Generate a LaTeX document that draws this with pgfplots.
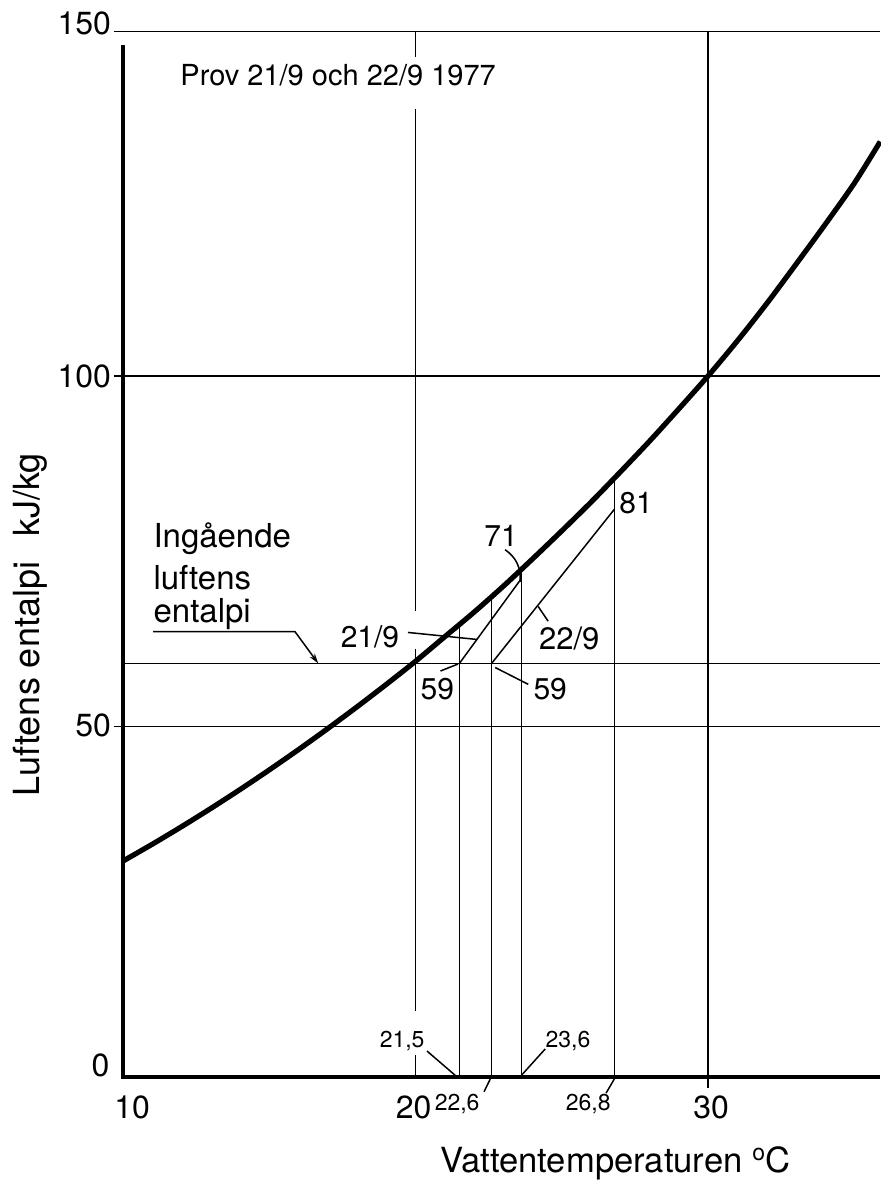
\documentclass[border=0pt]{standalone}
\usepackage{fontspec}
\setmainfont{TeX Gyre Heros}
\usepackage{pgfplots}
\pgfplotsset{compat=1.18}
\usetikzlibrary{arrows.meta}
\begin{document}
\begin{tikzpicture}
\begin{axis}[
  scale only axis, width=378.5pt, height=525.75pt,
  xmin=10, xmax=35.88, ymin=0, ymax=150,
  axis lines=none, clip=false,
  xtick=\empty, ytick=\empty,
]
% frame, grid lines
\draw[line width=0.75pt] (axis cs:9.69,149.1) -- (axis cs:35.88,149.1);
\draw[line width=0.75pt] (axis cs:9.69,100) -- (axis cs:35.88,100);
\draw[line width=0.75pt] (axis cs:9.69,50) -- (axis cs:35.88,50);
\draw[line width=0.75pt] (axis cs:30,-1.5) -- (axis cs:30,149.1);
\draw[line width=0.75pt] (axis cs:20,149.1) -- (axis cs:20,145.4);
\draw[line width=0.75pt] (axis cs:20,138.0) -- (axis cs:20,66.4);
\draw[line width=0.75pt] (axis cs:20,61.0) -- (axis cs:20,9.4);
\draw[line width=0.75pt] (axis cs:20,3.2) -- (axis cs:20,0);
% axes
\draw[line width=2pt] (axis cs:10,147.2) -- (axis cs:10,0) -- (axis cs:35.88,0);
% incoming air enthalpy
\addplot[black, line width=0.75pt] coordinates {(10,59) (35.88,59)};
% saturation curve
\addplot[black, line width=2.6pt, smooth] coordinates {
(10,30.8) (11,33.2) (12,35.7) (13,38.3) (14,41.0) (15,43.8) (16,46.7)
(17,49.7) (18,52.8) (19,56.0) (20,59.3) (21,62.8) (22,66.3) (23,70.0)
(24,73.9) (25,77.9) (26,82.0) (27,86.3) (28,90.7) (29,95.3) (30,100.0)
(31,105.0) (32,110.3) (33,115.9) (34,121.6) (35,127.5) (35.88,133.4)};
% water temperature verticals
\addplot[black, line width=0.75pt] coordinates {(21.5,0) (21.5,64.5)};
\addplot[black, line width=0.75pt] coordinates {(22.6,0) (22.6,68.4)};
\addplot[black, line width=0.75pt] coordinates {(23.62,0) (23.62,72.3)};
\addplot[black, line width=0.75pt] coordinates {(26.8,0) (26.8,85.4)};
% test lines
\addplot[black, line width=0.75pt] coordinates {(21.5,59) (23.6,71)};
\addplot[black, line width=0.75pt] coordinates {(22.6,59) (26.8,81)};
% tick labels
\begin{scope}[every node/.style={font=\fontsize{16}{19}\selectfont, inner sep=0pt}]
\node[anchor=east] at (axis cs:9.6,150.3) {150};
\node[anchor=east] at (axis cs:9.6,99.9) {100};
\node[anchor=east] at (axis cs:9.6,50.1) {50};
\node[anchor=east] at (axis cs:9.55,1.6) {0};
\node at (axis cs:10.31,-4.3) {10};
\node at (axis cs:19.93,-4.3) {20};
\node at (axis cs:30.1,-4.3) {30};
\end{scope}
\begin{scope}[every node/.style={font=\fontsize{16.5}{19}\selectfont, inner sep=0pt}]
\node[rotate=90] at (axis cs:6.82,64.5) {\fontsize{18}{20}\selectfont Luftens entalpi\hspace{0.7em}kJ/kg};
\node at (axis cs:26.82,-12.3) {\fontsize{17.3}{20}\selectfont Vattentemperaturen \raisebox{0.35em}{\fontsize{11.5}{12}\selectfont o}C};
\node[anchor=base west] at (axis cs:11.03,75.5) {Ingående};
\node[anchor=base west] at (axis cs:11.03,69.5) {luftens};
\node[anchor=base west] at (axis cs:11.03,64.8) {entalpi};
\end{scope}
\begin{scope}[every node/.style={font=\fontsize{15}{18}\selectfont, inner sep=0pt}]
\node[anchor=west] at (axis cs:11.95,142.9) {\fontsize{14.5}{17}\selectfont Prov 21/9 och 22/9 1977};
\node at (axis cs:18.44,62.8) {21/9};
\node at (axis cs:25.25,62.5) {\fontsize{15.5}{18}\selectfont 22/9};
\node at (axis cs:20.74,55.3) {59};
\node at (axis cs:24.60,55.3) {59};
\node at (axis cs:22.92,77.2) {71};
\node[anchor=west] at (axis cs:26.95,81.9) {81};
\end{scope}
\begin{scope}[every node/.style={font=\fontsize{11.5}{14}\selectfont, inner sep=0pt}]
\node at (axis cs:19.54,5.1) {21,5};
\node at (axis cs:25.21,5.1) {23,6};
\node at (axis cs:21.42,-3.9) {22,6};
\node at (axis cs:25.90,-3.9) {26,8};
\end{scope}
% leaders
\draw[line width=0.75pt] (axis cs:9.69,100) -- (axis cs:10.1,100);
\draw[line width=0.75pt, -{Stealth[length=5pt,width=3pt]}] (axis cs:11.03,63.5) -- (axis cs:15.88,63.5) -- (axis cs:16.67,59);
\draw[line width=0.75pt] (axis cs:19.74,63.4) -- (axis cs:22.1,62.4);
\draw[line width=0.75pt] (axis cs:24.19,67.1) -- (axis cs:24.53,65.0);
\draw[line width=0.75pt] (axis cs:20.85,57.9) -- (axis cs:21.45,58.9);
\draw[line width=0.75pt] (axis cs:22.72,58.4) -- (axis cs:23.85,56.0);
\draw[line width=0.75pt] (axis cs:23.06,75.2) to[bend left=30] (axis cs:23.57,70.6);
\draw[line width=0.75pt] (axis cs:20.39,3.7) -- (axis cs:21.42,0);
\draw[line width=0.75pt] (axis cs:24.43,4.0) -- (axis cs:23.63,0.3);
\draw[line width=0.75pt] (axis cs:22.55,-0.3) -- (axis cs:22.34,-2.1);
\draw[line width=0.75pt] (axis cs:26.79,-0.3) -- (axis cs:26.51,-2.3);
\coordinate (bbsw) at (axis cs:5.795,-17.4);
\coordinate (bbne) at (axis cs:35.88,153.6);
\end{axis}
\pgfresetboundingbox
\path[use as bounding box] (bbsw) rectangle (bbne);
\end{tikzpicture}
\end{document}
